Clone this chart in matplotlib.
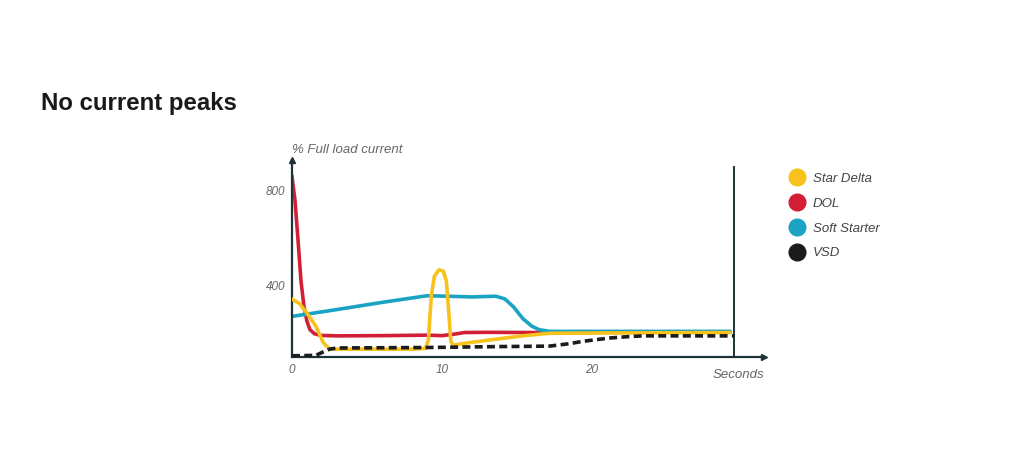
import matplotlib.pyplot as plt
from matplotlib.lines import Line2D

plt.rcParams['font.family'] = ['Liberation Sans', 'DejaVu Sans']

# ---- data (seconds, % full load current) ----
star_t = [0, 0.5, 1.0, 1.6, 2.1, 2.5, 3.0, 5, 8, 8.9, 9.1, 9.3, 9.5, 9.8, 10.1, 10.3, 10.45, 10.6, 10.75,
          12, 14, 15.5, 17.2, 20, 29.2]
star_y = [344, 325, 285, 229, 159, 135, 133, 133, 133, 136, 170, 360, 440, 467, 462, 420, 300, 165, 150,
          162, 178, 190, 200, 201, 203]

dol_t = [0, 0.2, 0.4, 0.6, 0.8, 1.0, 1.2, 1.5, 1.9, 3, 6, 9, 10, 10.8, 11.5, 13, 16, 29.2]
dol_y = [860, 760, 594, 420, 312, 250, 215, 198, 191, 189, 190, 192, 190, 196, 203, 204, 203, 206]

soft_t = [0, 3, 6, 9.0, 10.5, 12, 13.0, 13.6, 14.2, 14.8, 15.4, 16.0, 16.5, 17.2, 20, 29.2]
soft_y = [271, 300, 330, 358, 356, 353, 355, 356, 345, 310, 262, 230, 215, 208, 208, 208]

vsd_t = [0, 1.6, 2.1, 2.5, 3, 9, 13.9, 16, 17.2, 18.5, 19.4, 21.2, 22.5, 23.4, 29.5]
vsd_y = [105, 107, 122, 133, 138, 140, 144, 145, 146, 156, 166, 180, 186, 189, 189]

names = ["Star Delta", "DOL", "Soft Starter", "VSD"]
colors = ["#f6c21b", "#d21f36", "#1ba3c4", "#1b1b1b"]

axis_col = "#1d3338"
gray = "#666666"

fig = plt.figure(figsize=(10.24, 4.57), dpi=100)
ax = fig.add_axes([292 / 1024, 100 / 457, 472 / 1024, 197 / 457])

ax.plot(star_t, star_y, color=colors[0], lw=2.6, solid_joinstyle='round', zorder=3)
ax.plot(dol_t, dol_y, color=colors[1], lw=2.6, solid_joinstyle='round', zorder=2)
ax.plot(soft_t, soft_y, color=colors[2], lw=2.6, solid_joinstyle='round', zorder=2)
ax.plot(vsd_t, vsd_y, color=colors[3], lw=2.6, ls=(0, (2.2, 1.2)), zorder=4)

# right hand vertical marker line
ax.plot([29.5, 29.5], [100, 900], color=axis_col, lw=1.4)

ax.set_xlim(0, 31.5)
ax.set_ylim(100, 930)
for s in ["top", "right"]:
    ax.spines[s].set_visible(False)
for s in ["left", "bottom"]:
    ax.spines[s].set_color(axis_col)
    ax.spines[s].set_linewidth(1.6)
ax.plot(1, 0, ">", color=axis_col, ms=5, transform=ax.transAxes, clip_on=False)
ax.plot(0, 1, "^", color=axis_col, ms=5, transform=ax.transAxes, clip_on=False)

ax.set_xticks([0, 10, 20])
ax.set_xticklabels(["0", "10", "20"])
ax.set_yticks([400, 800])
ax.tick_params(length=0, labelsize=8.5, labelcolor=gray, pad=5)
for lab in ax.get_xticklabels() + ax.get_yticklabels():
    lab.set_fontstyle("italic")

ax.text(0, 1.02, "% Full load current", transform=ax.transAxes, fontsize=9.5,
        color=gray, style="italic", ha="left", va="bottom")
ax.text(1.0, -0.06, "Seconds", transform=ax.transAxes, fontsize=9.5,
        color=gray, style="italic", ha="right", va="top")

fig.text(41 / 1024, 1 - 110 / 457, "No current peaks", fontsize=17.3, fontweight="bold",
         color="#1a1a1a", ha="left", va="baseline")

handles = [Line2D([], [], ls="none", marker="o", ms=12, color=c) for c in colors]
leg = fig.legend(handles, names, loc="upper left", bbox_to_anchor=(772 / 1024, 1 - 161 / 457),
                 frameon=False, labelspacing=0.95, handletextpad=0.2, prop={"size": 9.5, "style": "italic"})
for t in leg.get_texts():
    t.set_color("#444444")

fig.savefig("out.png", dpi=100)
